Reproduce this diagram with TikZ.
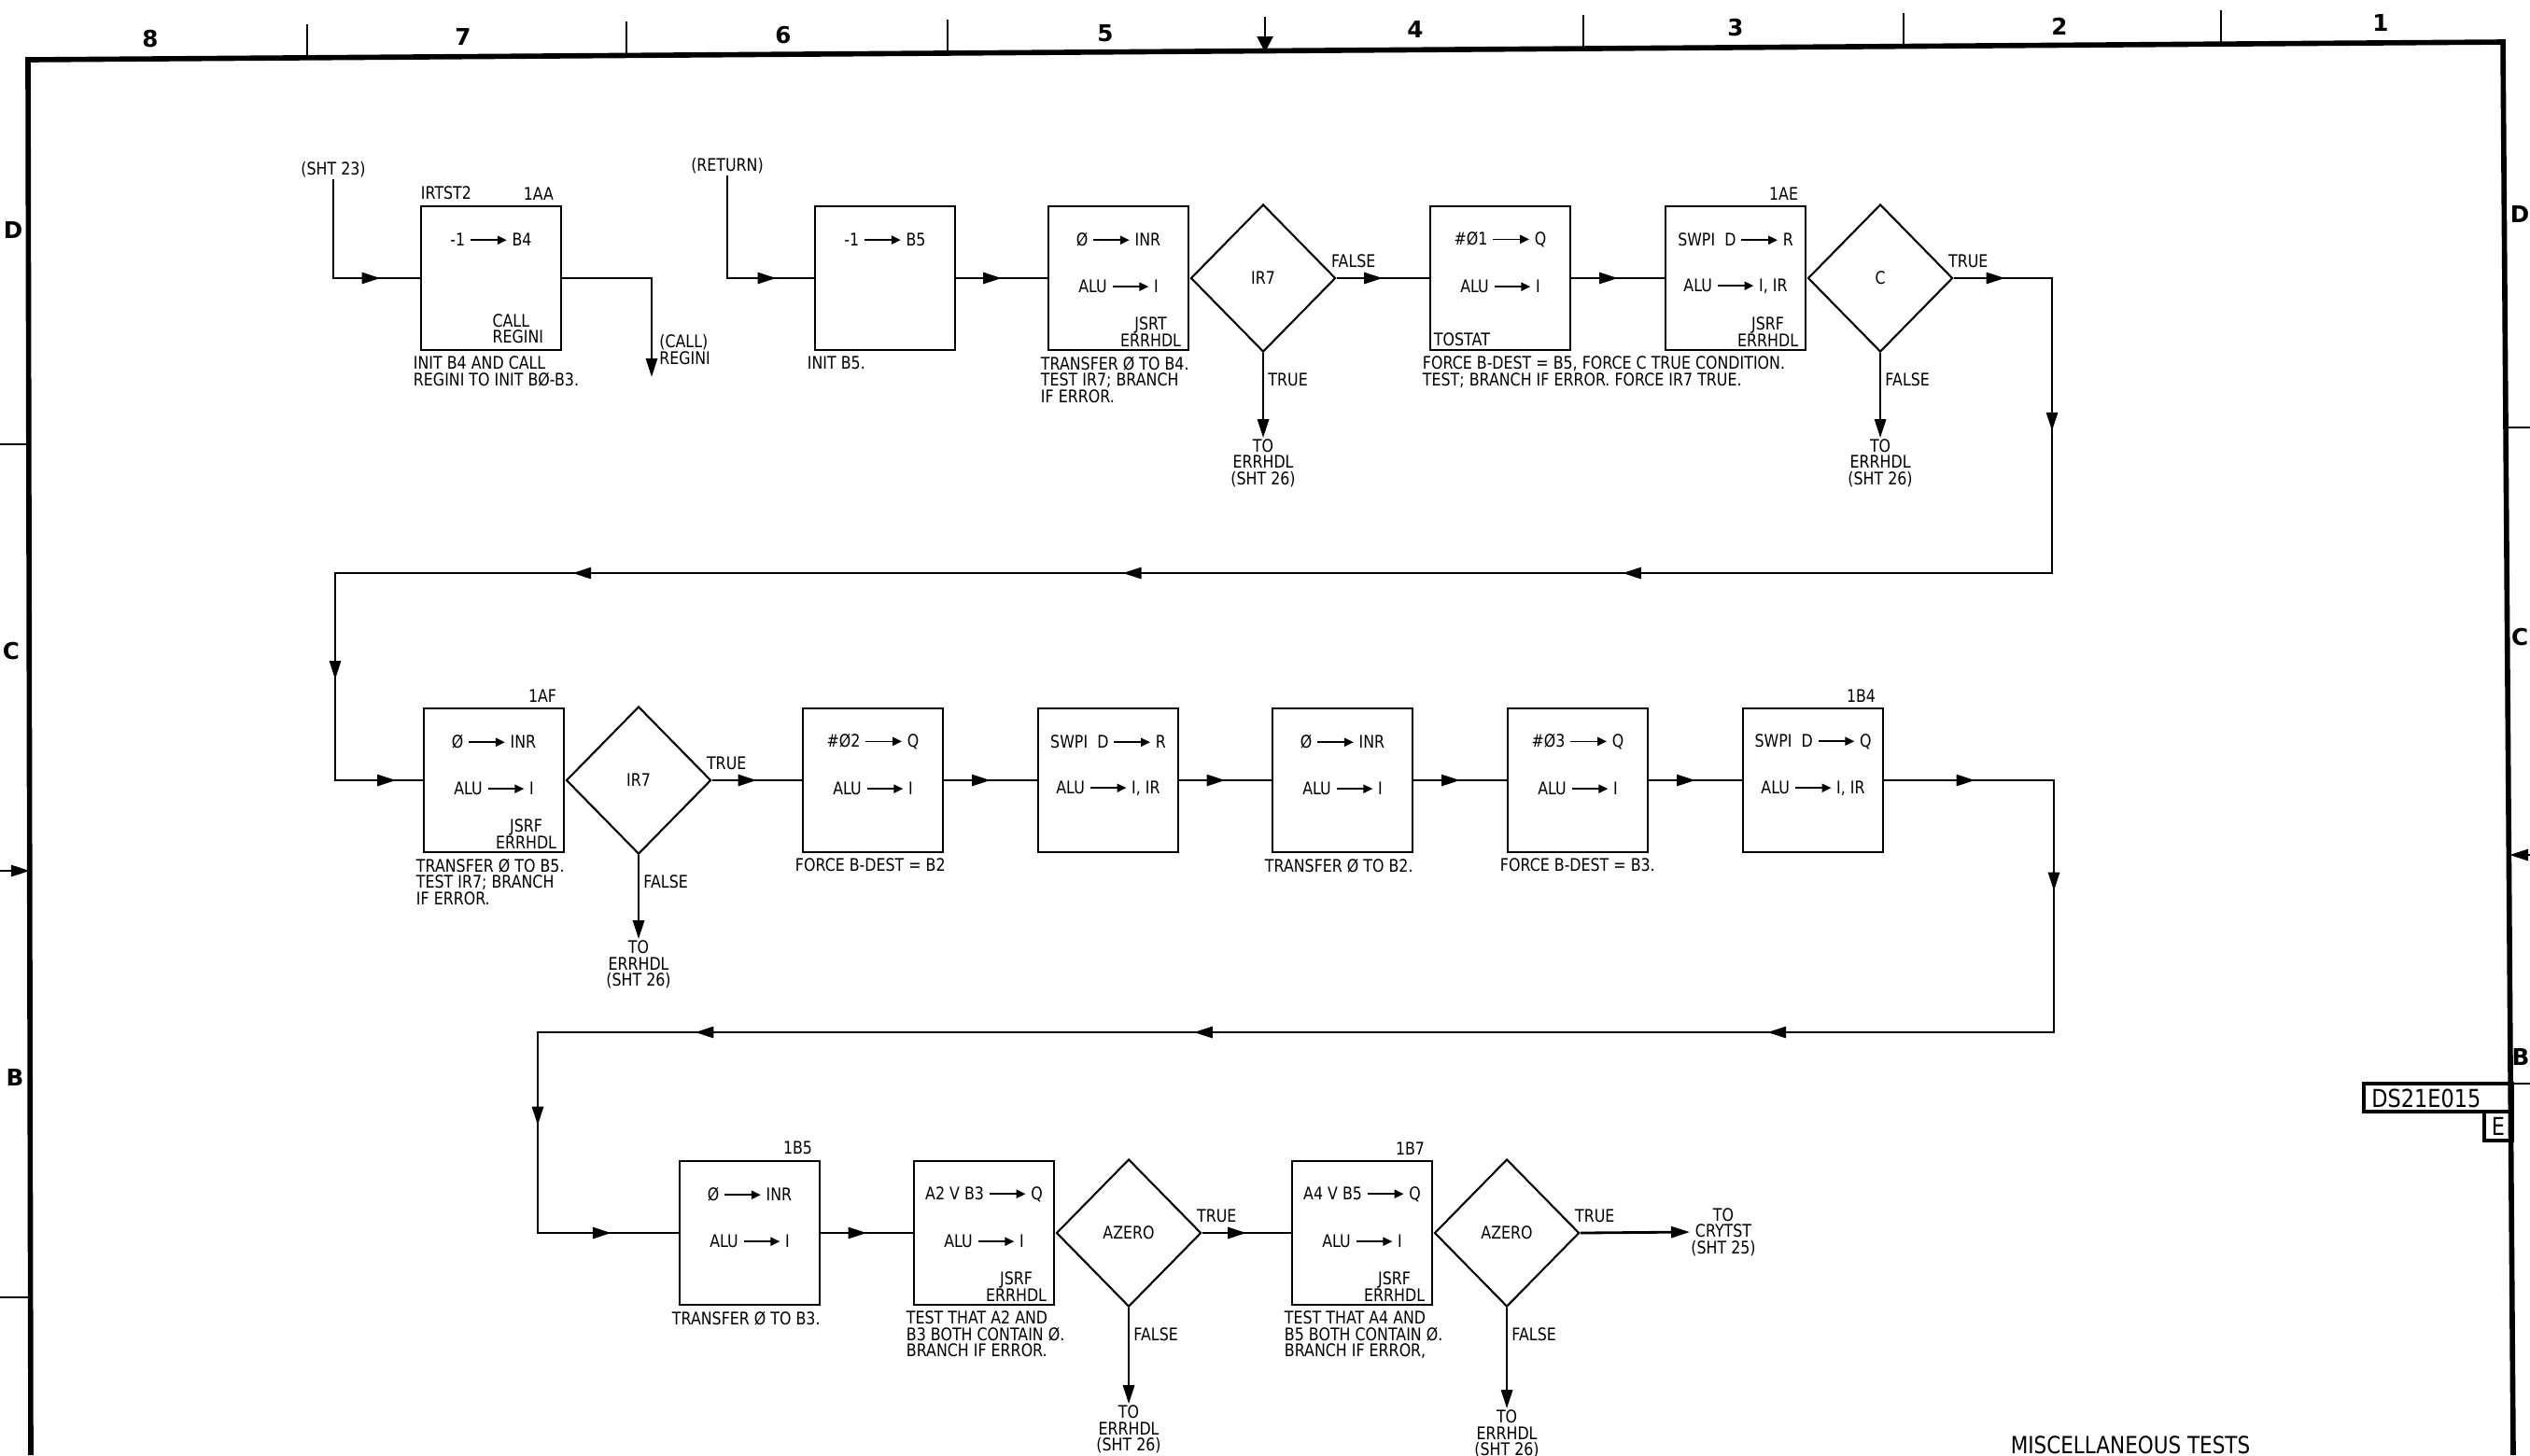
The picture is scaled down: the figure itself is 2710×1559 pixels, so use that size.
\documentclass[tikz,border=0pt]{standalone}
\usepackage{fontspec}
\setmainfont{DejaVu Sans}[FakeStretch=0.85]
\newfontfamily\zonefont{DejaVu Sans}
\usetikzlibrary{arrows.meta,shapes.geometric,decorations.markings,positioning}
\newcommand{\goesto}{\tikz[baseline=-0.6ex]\draw[line width=0.45pt,-{Triangle[length=2.8pt,width=2.6pt]}] (0pt,0pt) -- (11pt,0pt);}
\tikzset{
  every node/.style={font=\fontsize{5.3}{5}\selectfont, inner sep=0pt},
  zonelbl/.style={font=\zonefont\bfseries\fontsize{7}{8}\selectfont},
  opbox/.style={draw, line width=0.8pt, minimum width=1.5cm, minimum height=1.54cm},
  decide/.style={draw, diamond, line width=0.6pt, minimum width=1.55cm, minimum height=1.58cm},
  boxtag/.style={anchor=south east},
  toarrow/.style={-{Triangle[length=0.2cm,width=0.12cm]}},
  flowat/.style={postaction={decorate,decoration={markings,
      mark=at position #1 with {\arrow{Triangle[length=0.2cm,width=0.12cm]}}}}},
}
\begin{document}
\begin{tikzpicture}[x=0.01cm, y=-0.01cm, line width=0.8pt]
  \useasboundingbox (0,0) rectangle (2710,1559);
  % sheet frame, zone marks
  \draw[line width=1.6pt] (33,1559) -- (30,64) -- (2681,45) -- (2692,1559);
  \foreach \x/\y in {329/62, 671/59, 1015/57, 1696/52, 2039/50, 2379/47}
    \draw (\x,\y-36) -- (\x,\y);
  \foreach \x/\y/\c in {161/42/8, 496/40/7, 839/38/6, 1184/36/5, 1516/32/4, 1859/30/3, 2206/28/2, 2550/25/1}
    \node[zonelbl] (col\c) at (\x,\y) {\c};
  \draw[-{Triangle[length=0.17cm,width=0.17cm]}] (1355,18) -- (1355,56);   % centre mark
  \foreach \x/\y/\c in {14/247/D, 12/698/C, 16/1154/B}
    \node[zonelbl] (west\c) at (\x,\y) {\c};
  \foreach \x/\y/\c in {2699/230/D, 2699/683/C, 2700/1132/B}
    \node[zonelbl] (east\c) at (\x,\y) {\c};
  \draw (0,476) -- (31,476) (0,1390) -- (33,1390) (2684,458) -- (2710,458) (2532,1161) -- (2710,1161);
  \draw[toarrow] (0,933) -- (32,933);
  \draw[toarrow] (2710,916) -- (2688,916);
  % drawing number and title
  \draw[line width=1.2pt] (2532,1161) rectangle (2691,1191) (2661,1191) rectangle (2691,1222);
  \node[anchor=west, font=\fontsize{7.5}{8}\selectfont] (dwgno) at (2539,1177) {DS21E015};
  \node[font=\fontsize{7.5}{8}\selectfont] (rev) at (2676,1207) {E};
  \node[font=\fontsize{7.2}{8}\selectfont] (title) at (2282,1548) {MISCELLANEOUS TESTS};

  % operation boxes
  \foreach \n/\x/\y/\s/\t in {
      b1/526/298/{-1 \goesto\ B4}/{},
      b2/948/298/{-1 \goesto\ B5}/{},
      b3/1198/298/{Ø \goesto\ INR}/{ALU \goesto\ I},
      b4/1607/298/{\#Ø1 \goesto\ Q}/{ALU \goesto\ I},
      b5/1859/298/{SWPI~~D \goesto\ R}/{ALU \goesto\ I, IR},
      b6/529/836/{Ø \goesto\ INR}/{ALU \goesto\ I},
      b7/935/836/{\#Ø2 \goesto\ Q}/{ALU \goesto\ I},
      b8/1187/836/{SWPI~~D \goesto\ R}/{ALU \goesto\ I, IR},
      b9/1438/836/{Ø \goesto\ INR}/{ALU \goesto\ I},
      b10/1690/836/{\#Ø3 \goesto\ Q}/{ALU \goesto\ I},
      b11/1942/836/{SWPI~~D \goesto\ Q}/{ALU \goesto\ I, IR},
      b12/803/1321/{Ø \goesto\ INR}/{ALU \goesto\ I},
      b13/1054/1321/{A2 V B3 \goesto\ Q}/{ALU \goesto\ I},
      b14/1459/1321/{A4 V B5 \goesto\ Q}/{ALU \goesto\ I}}
    { \node[opbox] (\n) at (\x,\y) {};
      \node (\n-a) at ([yshift=-0.37cm]\n.north) {\s};
      \node (\n-b) at ([yshift=-0.87cm]\n.north) {\t}; }
  % tests
  \node[decide, anchor=west] (d1) at (b3.east) {IR7};
  \node[decide, anchor=west] (d2) at (b5.east) {C};
  \node[decide, anchor=west] (d3) at (b6.east) {IR7};
  \node[decide, anchor=west] (d4) at (b13.east) {AZERO};
  \node[decide, anchor=west] (d5) at (b14.east) {AZERO};

  % box tags, calls, notes
  \node[anchor=south west] (b1-name) at ([yshift=0.04cm]b1.north west) {IRTST2};
  \foreach \n/\t in {b1/1AA, b5/1AE, b6/1AF, b11/1B4, b12/1B5, b14/1B7}
    \node[boxtag] (\n-tag) at ([xshift=-0.08cm,yshift=0.04cm]\n.north east) {\t};
  \node[anchor=south east, align=left] (b1-call) at ([xshift=-0.19cm,yshift=0.07cm]b1.south east) {CALL\\REGINI};
  \foreach \n/\t in {b3/JSRT, b5/JSRF, b6/JSRF, b13/JSRF, b14/JSRF}
    \node[anchor=south east, align=center] (\n-call) at ([xshift=-0.08cm,yshift=0.04cm]\n.south east) {\t\\ERRHDL};
  \node[anchor=south west] (b4-sub) at ([xshift=0.04cm,yshift=0.04cm]b4.south west) {TOSTAT};
  \foreach \n/\t in {
      b1/{INIT B4 AND CALL\\REGINI TO INIT BØ-B3.},
      b2/{INIT B5.},
      b3/{TRANSFER Ø TO B4.\\TEST IR7; BRANCH\\IF ERROR.},
      b4/{FORCE B-DEST = B5, FORCE C TRUE CONDITION.\\TEST; BRANCH IF ERROR. FORCE IR7 TRUE.},
      b6/{TRANSFER Ø TO B5.\\TEST IR7; BRANCH\\IF ERROR.},
      b7/{FORCE B-DEST = B2},
      b9/{TRANSFER Ø TO B2.},
      b10/{FORCE B-DEST = B3.},
      b12/{TRANSFER Ø TO B3.},
      b13/{TEST THAT A2 AND\\B3 BOTH CONTAIN Ø.\\BRANCH IF ERROR.},
      b14/{TEST THAT A4 AND\\B5 BOTH CONTAIN Ø.\\BRANCH IF ERROR,}}
    \node[anchor=north west, align=left] (\n-note) at ([xshift=-0.08cm,yshift=-0.04cm]\n.south west) {\t};

  % branch labels and error exits
  \foreach \d/\t in {d1/FALSE, d2/TRUE, d3/TRUE, d4/TRUE, d5/TRUE}
    \node[anchor=south west] (\d-out) at ([xshift=-0.07cm,yshift=0.1cm]\d.east) {\t};
  \foreach \d/\t in {d1/TRUE, d2/FALSE, d3/FALSE, d4/FALSE, d5/FALSE}
    \node[anchor=west] (\d-down) at ([xshift=0.04cm,yshift=-0.29cm]\d.south) {\t};
  \foreach \d/\g in {d1/0.91cm, d2/0.91cm, d3/0.9cm, d4/1.03cm, d5/1.08cm}{
    \node[align=center, below=\g of \d.south] (\d-err) {TO\\ERRHDL\\(SHT 26)};
    \draw[toarrow] (\d.south) -- (\d-err.north); }
  \node[anchor=west, align=center] (cry) at (1810,1320) {TO\\CRYTST\\(SHT 25)};
  \draw[toarrow] (d5.east) -- (cry.west);

  % entries and flow
  \node (sht) at (357,182) {(SHT 23)};
  \node (ret) at (779,178) {(RETURN)};
  \draw[flowat=-0.42cm] (sht.south) |- (b1.west);
  \draw[flowat=-0.4cm] (ret.south) |- (b2.west);
  \coordinate (callend) at (698,404);
  \draw[toarrow] (b1.east) -| (callend);
  \node[anchor=south west, align=left] (callreg) at (705,392) {(CALL)\\REGINI};
  \draw[flowat=0.5] (b2) -- (b3);
  \draw[flowat=0.5] (d1) -- (b4);
  \draw[flowat=0.5] (b4) -- (b5);
  \draw[flowat=0.5] (d3) -- (b7);
  \draw[flowat=0.5] (b7) -- (b8);
  \draw[flowat=0.5] (b8) -- (b9);
  \draw[flowat=0.5] (b9) -- (b10);
  \draw[flowat=0.5] (b10) -- (b11);
  \draw[flowat=0.5] (b12) -- (b13);
  \draw[flowat=0.5] (d4) -- (b14);
  % row to row
  \coordinate (c1) at (2198,298);
  \coordinate (c2) at (2198,614);
  \coordinate (c3) at (359,614);
  \coordinate (c4) at (359,836);
  \draw[flowat=0.55cm, flowat=2.69cm, flowat=8.81cm, flowat=14.16cm, flowat=20.05cm, flowat=23.73cm, flowat=25.46cm]
    (d2.east) -- (c1) -- (c2) -- (c3) -- (c4) -- (b6.west);
  \coordinate (e1) at (2200,836);
  \coordinate (e2) at (2200,1106);
  \coordinate (e3) at (576,1106);
  \coordinate (e4) at (576,1321);
  \draw[flowat=0.97cm, flowat=3.0cm, flowat=7.58cm, flowat=13.72cm, flowat=19.06cm, flowat=21.74cm, flowat=23.68cm]
    (b11.east) -- (e1) -- (e2) -- (e3) -- (e4) -- (b12.west);
\end{tikzpicture}
\end{document}
